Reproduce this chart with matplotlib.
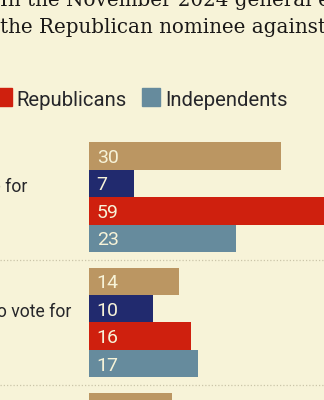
import numpy as np
import matplotlib
matplotlib.use("Agg")
import matplotlib.pyplot as plt
from matplotlib.patches import Rectangle

# survey shares (%), one list per voter group, one entry per answer
answers = ["Definitely vote for", "Would be likely to vote for", "Might consider voting for"]
series = ["All voters", "Democrats", "Republicans", "Independents"]
all_voters = [30, 14, 13]
democrats = [7, 10, np.nan]
republicans = [59, 16, np.nan]
independents = [23, 17, np.nan]

colors = ["#bb9662", "#212a6e", "#cf200e", "#668b9d"]
bg = "#f7f3d8"
ink = "#26262a"

W, H = 324, 400
fig = plt.figure(figsize=(W / 100, H / 100), dpi=100, facecolor=bg)

def fx(px):
    return px / W

def fy(py):
    return 1 - py / H

# title (serif, two lines)
fig.text(fx(0.5), fy(6.5), "In the November 2024 general election, would you vote for",
         family="DejaVu Serif", fontsize=14.3, color="#1a1817", va="baseline", ha="left")
fig.text(fx(0.5), fy(33.3), "the Republican nominee against Joe Biden?",
         family="DejaVu Serif", fontsize=14.3, color="#1a1817", va="baseline", ha="left")

# axes in pixel-like units: x scaled so one point = 6.4px, zero at px 89
x0, scale = 89, 6.4
ax = fig.add_axes([0, 0, 1, 1])
ax.set_facecolor(bg)
ax.set_xlim(-x0 / scale, (W - x0) / scale)
ax.set_ylim(H, 0)
ax.axis("off")

bar_h = 27.45
first_top = 142.3
pitch = 125.2
data = [all_voters, democrats, republicans, independents]

for g, label in enumerate(answers):
    top = first_top + g * pitch
    for i, vals in enumerate(data):
        v = vals[g]
        if np.isnan(v):
            continue
        yc = top + bar_h * (i + 0.5)
        ax.barh(yc, v, height=bar_h, color=colors[i], linewidth=0)
        ax.text(7.7 / scale, yc + 7, f"{v:g}", family="Roboto", fontsize=14,
                color=bg, va="baseline", ha="left")
    # dotted divider below each group
    ax.axhline(top + 4 * bar_h + (pitch - 4 * bar_h) / 2, color="#cbc5a9",
               lw=0.9, ls=(0, (1, 1.6)))

label_right = [27.7, 71.0, 40.0]
for g, label in enumerate(answers):
    ax.text((label_right[g] - x0) / scale, first_top + g * pitch + 49.8, label,
            family="Roboto", fontsize=12.7, color=ink, ha="right", va="baseline")

# legend row
fig.canvas.draw()
r = fig.canvas.get_renderer()
sq, gap_txt, gap_item = 18.5, 4.5, 15.5
widths = []
for name in series:
    t = fig.text(0, 0, name, family="Roboto", fontsize=14.6)
    widths.append(t.get_window_extent(r).width)
    t.remove()
# the Republicans swatch sits just off the left edge
x = -6.8 - sum(sq + gap_txt + w + gap_item for w in widths[:2])
for name, c, w in zip(series, colors, widths):
    fig.patches.append(Rectangle((fx(x), fy(106.3)), fx(sq), sq / H, color=c,
                                 transform=fig.transFigure, figure=fig))
    fig.text(fx(x + sq + gap_txt), fy(105.6), name, family="Roboto", fontsize=14.6,
             color=ink, va="baseline", ha="left")
    x += sq + gap_txt + w + gap_item

fig.savefig("out.png", dpi=100, facecolor=bg)
